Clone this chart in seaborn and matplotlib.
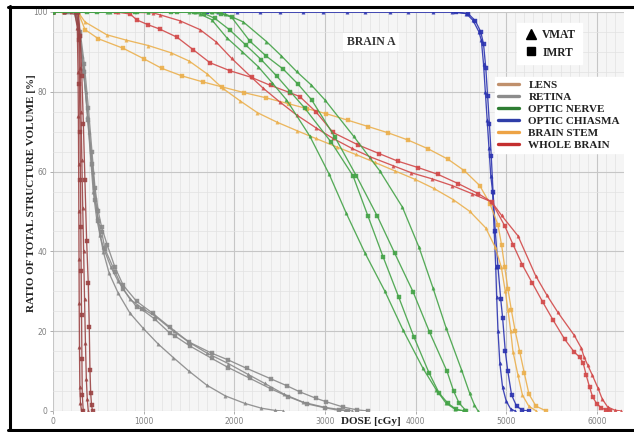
import matplotlib
matplotlib.use("Agg")
import matplotlib.pyplot as plt
import seaborn as sns
from matplotlib.lines import Line2D
from matplotlib.ticker import MultipleLocator

# ---- dane (dawka [cGy], objetosc [%]) ----
# soczewka (LENS)
lens_v1_dose = [0, 120, 240, 268, 276, 280, 283, 285, 287, 289, 292, 296, 303, 316]
lens_v1_vol = [100, 100, 100, 96, 85, 74, 62, 50, 38, 27, 16, 6, 2, 0]
lens_i1_dose = [0, 130, 262, 285, 292, 298, 303, 307, 311, 315, 319, 323, 334]
lens_i1_vol = [100, 100, 100, 93, 82, 70, 58, 46, 35, 24, 13, 4, 0]
lens_v2_dose = [0, 200, 275, 292, 300, 308, 318, 328, 338, 348, 358, 368, 378, 389]
lens_v2_vol = [100, 100, 100, 94, 86, 75, 63, 51, 40, 28, 17, 8, 3, 0]
lens_i2_dose = [0, 280, 300, 318, 335, 352, 371, 389, 400, 408, 416, 425, 437]
lens_i2_vol = [100, 100, 94, 84, 72, 58, 42.7, 32, 21, 10.3, 4.5, 1.5, 0]

# siatkowka (RETINA)
ret_v1_dose = [0, 120, 230, 280, 320, 360, 400, 440, 480, 520, 555, 620, 720, 850,
               996, 1160, 1327, 1500, 1695, 1900, 2117, 2300, 2450, 2540]
ret_v1_vol = [100, 100, 100, 96, 89, 80, 70, 60, 51, 44, 39.9, 34.5, 29.5, 24.5,
              20.7, 16.8, 13.4, 10, 6.5, 3.8, 1.9, 0.7, 0.15, 0]
ret_i1_dose = [0, 150, 255, 300, 345, 390, 430, 463, 500, 537, 600, 684, 775, 922,
               1100, 1290, 1500, 1750, 1933, 2136, 2400, 2583, 2723, 2900, 3017,
               3200, 3350, 3476]
ret_i1_vol = [100, 100, 100, 95, 87, 76, 65, 56, 50, 46, 41.5, 36, 31.5, 27.5,
              24.5, 21, 17.3, 14.5, 12.8, 10.7, 8.1, 6.3, 4.8, 3.2, 2.3,
              1.0, 0.3, 0]
ret_v2_dose = [0, 120, 245, 290, 335, 380, 420, 444, 480, 520, 555, 640, 720, 850,
               1000, 1125, 1330, 1510, 1700, 1933, 2150, 2337, 2550, 2760, 3000,
               3220, 3300]
ret_v2_vol = [100, 100, 100, 95, 86, 74, 62, 55, 48.5, 44, 41, 36, 32.5, 28,
              25.5, 23.8, 20, 17.1, 14.5, 11.9, 9.2, 6.9, 4.2, 2.2, 0.9,
              0.2, 0]
ret_i2_dose = [0, 180, 250, 295, 340, 385, 425, 463, 500, 537, 573, 684, 775, 922,
               978, 1125, 1290, 1345, 1510, 1750, 1933, 2172, 2400, 2594, 2800,
               3000, 3150, 3250]
ret_i2_vol = [100, 100, 100, 94, 85, 73, 62, 53, 47.5, 44.9, 40.6, 34.9, 30.5, 26.1,
              25.5, 23, 19.5, 18.8, 16.3, 13.2, 10.9, 8.2, 5.6, 3.6, 1.8,
              0.8, 0.2, 0]

# nerw wzrokowy (OPTIC NERVE)
on_v1_dose = [0, 600, 1050, 1500, 1620, 1750, 1915, 2090, 2264, 2420, 2576, 2833,
              3046, 3237, 3440, 3660, 3862, 4082, 4229, 4339, 4440, 4523]
on_v1_vol = [100, 100, 100, 100, 99.5, 98.1, 93.6, 90, 86.3, 82.2, 78, 68.9,
             59.4, 49.5, 39.7, 30.1, 20.3, 10.7, 5.3, 1.9, 0.4, 0]
on_i1_dose = [0, 370, 900, 1300, 1560, 1670, 1786, 1950, 2128, 2300, 2466, 2620,
              2778, 3072, 3311, 3476, 3641, 3815, 3983, 4150, 4260, 4358, 4450, 4542]
on_i1_vol = [100, 100, 100, 100, 100, 99.6, 98.4, 95.5, 91.7, 88, 84, 80,
             75.9, 67.3, 58.9, 48.8, 38.7, 28.5, 18.5, 9.5, 4.5, 1.9, 0.4, 0]
on_i2_dose = [0, 480, 926, 1370, 1750, 1850, 1970, 2172, 2350, 2539, 2700, 2853,
              3109, 3348, 3579, 3771, 3972, 4156, 4348, 4420, 4480, 4560]
on_i2_vol = [100, 100, 100, 100, 100, 99.6, 98.7, 92.7, 89, 85.7, 82, 78,
             68.7, 58.9, 48.8, 39.5, 29.9, 19.7, 9.9, 5, 2, 0]
on_v2_dose = [0, 630, 1050, 1570, 1750, 1900, 2100, 2355, 2520, 2687, 2850, 2999,
              3319, 3605, 3855, 4039, 4193, 4339, 4506, 4598, 4650, 4690]
on_v2_vol = [100, 100, 100, 100, 100, 99.5, 97.5, 92.6, 89, 85.1, 81.7, 78,
             68.8, 60.2, 51.1, 41, 30.8, 20.7, 10.4, 4.4, 1.5, 0]

# skrzyzowanie nerwow (OPTIC CHIASMA)
ch_v_dose = [0, 1820, 2030, 2280, 2500, 2756, 2977, 3241, 3440, 3716, 3914, 4190,
             4399, 4560, 4634, 4700, 4726, 4750, 4770, 4790, 4810, 4830, 4850,
             4868, 4885, 4895, 4910, 4930, 4960, 5000, 5050, 5100]
ch_v_vol = [100, 100, 100, 100, 100, 100, 100, 100, 100, 100, 100, 100,
            100, 99.6, 97.9, 95, 92.9, 87, 80, 73, 66, 59, 55,
            45, 36, 28.6, 20, 12, 6, 2.5, 0.5, 0]
ch_i_dose = [0, 1700, 4450, 4580, 4660, 4720, 4750, 4775, 4795, 4815, 4835, 4855,
             4880, 4910, 4940, 4961, 4990, 5018, 5060, 5115, 5180, 5250]
ch_i_vol = [100, 100, 100, 99.6, 97.8, 95, 92, 86, 79, 72, 64, 55,
            45, 36, 28, 23.3, 15, 10, 4, 1.2, 0.2, 0]

# pien mozgu (BRAIN STEM)
bs_v_dose = [0, 120, 240, 276, 353, 592, 800, 1051, 1300, 1503, 1700, 1871, 2060,
             2253, 2470, 2687, 2900, 3128, 3340, 3550, 3770, 3991, 4200, 4414,
             4600, 4774, 4880, 4947, 4990, 5020, 5050, 5075, 5130, 5179, 5250, 5333]
bs_v_vol = [100, 100, 100, 100, 97.5, 94.3, 93, 91.6, 89.8, 87.7, 84.5, 80.9, 77.8,
            74.8, 72.4, 70.3, 68.3, 66.2, 64.3, 62.3, 60.2, 58.1, 55.8, 53,
            50, 45.9, 41, 36, 30, 25.3, 20, 14.9, 9, 4, 1.2, 0]
bs_i_dose = [0, 120, 240, 276, 353, 500, 775, 1000, 1198, 1420, 1650, 1870, 2106,
             2350, 2600, 2800, 3017, 3250, 3476, 3700, 3918, 4140, 4358, 4540,
             4708, 4820, 4910, 4950, 4984, 5020, 5057, 5100, 5149, 5200, 5252,
             5330, 5443]
bs_i_vol = [100, 100, 100, 100, 95.6, 93.3, 90.9, 88.3, 85.9, 84, 82.5, 81.2, 79.8,
            78.5, 77, 75.8, 74.5, 72.9, 71.3, 69.7, 67.9, 65.7, 63.1, 60.2,
            56.5, 52, 46.6, 41.5, 36, 30.5, 25.3, 20, 14.9, 9.5, 4.2,
            1.2, 0]

# caly mozg (WHOLE BRAIN)
wb_v_dose = [0, 720, 1100, 1180, 1400, 1621, 1800, 1970, 2191, 2319, 2500, 2687,
             2900, 3091, 3300, 3500, 3750, 3955, 4180, 4403, 4620, 4840, 4950,
             5130, 5325, 5450, 5571, 5750, 5828, 5860, 5900, 5950, 6012, 6060,
             6120, 6200, 6270]
wb_v_vol = [100, 100, 99.8, 99.3, 97.8, 95.6, 92.5, 88.4, 83.6, 80.9, 77.5, 74.2,
            71, 68.3, 65.8, 63.7, 61.5, 59.7, 58.2, 56.5, 54.5, 52.4, 49,
            43.9, 33.9, 29, 24.7, 19, 15.8, 13.5, 11.5, 9, 5.8, 3,
            1, 0.2, 0]
wb_i_dose = [0, 700, 850, 926, 1050, 1180, 1367, 1550, 1731, 1950, 2191, 2400,
             2613, 2723, 2900, 3090, 3365, 3600, 3806, 4030, 4248, 4470, 4690,
             4840, 4984, 5080, 5179, 5290, 5406, 5520, 5645, 5750, 5810, 5850,
             5884, 5920, 5954, 6000, 6050, 6105, 6150]
wb_i_vol = [100, 100, 99.5, 98, 96.8, 95.7, 93.7, 90.5, 87.3, 85.3, 83.6, 81.6,
            79.8, 78.8, 75, 69.8, 66.7, 64.5, 62.6, 61, 59.3, 57, 54.5,
            52.4, 46.4, 41.5, 36.6, 32, 27.2, 22.7, 18, 14.8, 13.5, 12,
            8.9, 6, 3.5, 1.8, 0.8, 0.2, 0]

legend_names = ["LENS", "RETINA", "OPTIC NERVE", "OPTIC CHIASMA", "BRAIN STEM", "WHOLE BRAIN"]
legend_colors = ["#c0906c", "#8c8c8c", "#2e7d32", "#2f3ea8", "#eda345", "#c42f2f"]

LENS_C = "#9b4444"
RET_C = "#8a8a8a"
ON_C = "#45a348"
CH_C = "#2c34b0"
BS_C = "#ebb04e"
WB_C = "#d24a4a"

sns.set_style("whitegrid")
plt.rcParams["font.family"] = ["DejaVu Sans"]
SERIF = "Liberation Serif"

fig = plt.figure(figsize=(6.34, 4.32), dpi=100)
ax = fig.add_axes([53 / 634, 21 / 432, 571 / 634, 399 / 432])
ax.set_facecolor("#f5f5f5")

curves = [
    (ch_v_dose, ch_v_vol, CH_C, "^"),
    (ch_i_dose, ch_i_vol, CH_C, "s"),
    (bs_v_dose, bs_v_vol, BS_C, "^"),
    (bs_i_dose, bs_i_vol, BS_C, "s"),
    (wb_v_dose, wb_v_vol, WB_C, "^"),
    (wb_i_dose, wb_i_vol, WB_C, "s"),
    (ret_v1_dose, ret_v1_vol, RET_C, "^"),
    (ret_i1_dose, ret_i1_vol, RET_C, "s"),
    (ret_v2_dose, ret_v2_vol, RET_C, "^"),
    (ret_i2_dose, ret_i2_vol, RET_C, "s"),
    (lens_v1_dose, lens_v1_vol, LENS_C, "^"),
    (lens_i1_dose, lens_i1_vol, LENS_C, "s"),
    (lens_v2_dose, lens_v2_vol, LENS_C, "^"),
    (lens_i2_dose, lens_i2_vol, LENS_C, "s"),
    (on_v1_dose, on_v1_vol, ON_C, "^"),
    (on_i1_dose, on_i1_vol, ON_C, "s"),
    (on_i2_dose, on_i2_vol, ON_C, "s"),
    (on_v2_dose, on_v2_vol, ON_C, "^"),
]

for d, v, c, m in curves:
    sns.lineplot(x=d, y=v, ax=ax, color=c, marker=m, markersize=2.4,
                 markeredgecolor=c, markeredgewidth=0.3, linewidth=0.95,
                 alpha=0.9, estimator=None, sort=False, legend=False)

ax.set_xlim(0, 6300)
ax.set_ylim(0, 100)
ax.xaxis.set_major_locator(MultipleLocator(1000))
ax.xaxis.set_minor_locator(MultipleLocator(100))
ax.yaxis.set_major_locator(MultipleLocator(20))
ax.yaxis.set_minor_locator(MultipleLocator(5))
ax.grid(which="major", color="#c6c6c6", linewidth=0.8)
ax.grid(which="minor", color="#e2e2e2", linewidth=0.5)
ax.set_axisbelow(True)
for s in ax.spines.values():
    s.set_visible(False)
ax.tick_params(which="major", labelsize=5.5, labelcolor="#808080", color="#a0a0a0",
               length=2.5, width=0.6, pad=1.5, left=True, bottom=True)
ax.tick_params(which="minor", length=0)
ax.set_xlabel("")
ax.set_ylabel("")

fig.text(371 / 634, 1 - 422 / 432, "DOSE [cGy]", ha="center", va="center",
         fontsize=8, fontweight="bold", family=SERIF, color="#222222")
fig.text(32 / 634, 1 - 193 / 432, "RATIO OF TOTAL STRUCTURE VOLUME [%]", ha="center",
         va="center", rotation=90, fontsize=8, fontweight="bold", family=SERIF,
         color="#222222")
fig.text(371 / 634, 1 - 42 / 432, "BRAIN A", ha="center", va="center", fontsize=8.5,
         fontweight="bold", family=SERIF, color="#333333",
         bbox=dict(facecolor="white", edgecolor="none", pad=2.5))

# legenda technik
tech_handles = [
    Line2D([], [], marker="^", color="black", linestyle="none", markersize=6.5),
    Line2D([], [], marker="s", color="black", linestyle="none", markersize=6),
]
leg1 = ax.legend(tech_handles, ["VMAT", "IMRT"], loc="upper left",
                 bbox_to_anchor=((517 - 53) / 571, (411 - 23) / 399),
                 borderaxespad=0, frameon=True, fancybox=False, framealpha=1,
                 edgecolor="white", facecolor="white", handletextpad=0.3,
                 handlelength=1.4, labelspacing=0.5, borderpad=0.5,
                 prop={"family": SERIF, "weight": "bold", "size": 8.3})
for t in leg1.get_texts():
    t.set_color("#222222")
ax.add_artist(leg1)

# legenda struktur
struct_handles = [Line2D([], [], color=c, linewidth=2.4) for c in legend_colors]
leg2 = ax.legend(struct_handles, legend_names, loc="upper left",
                 bbox_to_anchor=((495 - 53) / 571, (411 - 77) / 399),
                 borderaxespad=0, frameon=True, fancybox=False, framealpha=1,
                 edgecolor="white", facecolor="white", handlelength=1.9,
                 handletextpad=0.8, labelspacing=0.2, borderpad=0.3,
                 prop={"family": SERIF, "weight": "bold", "size": 8})
for t in leg2.get_texts():
    t.set_color("#222222")

# czarna ramka
for xs, ys in [([9.5, 9.5], [6, 431]), ([8, 634], [7, 7]), ([8, 634], [429.5, 429.5])]:
    fig.add_artist(Line2D([x / 634 for x in xs], [1 - y / 432 for y in ys],
                          transform=fig.transFigure, color="black", linewidth=2.2))

fig.savefig("out.png", dpi=100)
